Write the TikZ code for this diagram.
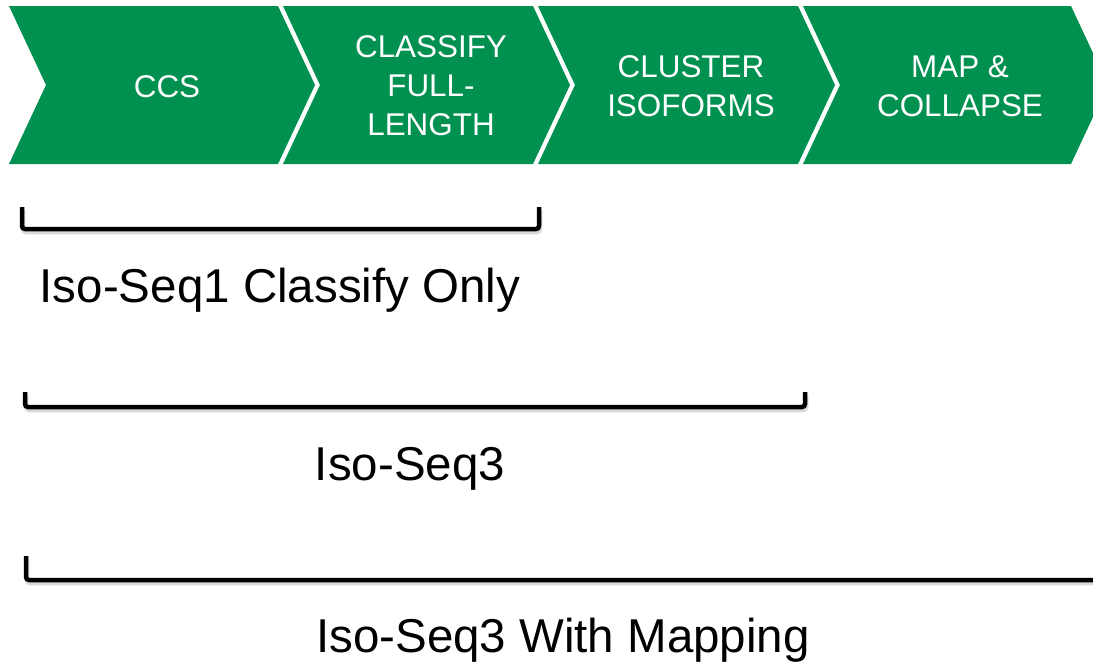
\documentclass[tikz,border=0pt]{standalone}
\usepackage{tikz}
\usetikzlibrary{calc}
\usetikzlibrary{positioning}
\usepackage{fontspec}
\setmainfont{Liberation Sans}
\definecolor{stepgreen}{RGB}{0,145,80}
\newcommand{\chevdepth}{37}
\tikzset{
  steplabel/.style={text=white,align=center,font=\fontsize{31.4}{39}\selectfont},
  brlabel/.style={font=\fontsize{47.5}{56}\selectfont},
  bracket/.style={line width=4.5pt,rounded corners=3pt},
  brshadow/.style={line width=4.5pt,rounded corners=3pt,black!25,opacity=0.6}
}
\begin{document}
\begin{tikzpicture}[x=1pt,y=-1pt]
        \useasboundingbox (0,0) rectangle (1093,665);
        % chevrons: left top x / right top x
        \foreach \l/\r in {9/278, 283/533, 538/798, 803/1071}{
          \fill[stepgreen] (\l,6) -- (\r,6) -- (\r+\chevdepth,85) -- (\r,164)
            -- (\l,164) -- (\l+\chevdepth,85) -- cycle;
        }
        \node[steplabel] (ccs)     at (167,87)  {CCS};
        \node[steplabel] (classify) at (431,86) {CLASSIFY\\FULL-\\LENGTH};
        \node[steplabel] (cluster) at (691,86)  {CLUSTER\\ISOFORMS};
        \node[steplabel] (mapcol)  at (960,86)  {MAP \&\\COLLAPSE};

        % brackets
        \coordinate (b1l) at (22,207);  \coordinate (b1r) at (539,207);
        \coordinate (b2l) at (25,392);  \coordinate (b2r) at (805,392);
        \coordinate (b3l) at (26,556);  \coordinate (b3r) at (1110,556);
        \draw[brshadow] ($(b1l)+(1,3)$) |- ($(b1r)+(1,25)$) -- ($(b1r)+(1,3)$);
        \draw[brshadow] ($(b2l)+(1,3)$) |- ($(b2r)+(1,18)$) -- ($(b2r)+(1,3)$);
        \draw[brshadow] ($(b3l)+(1,3)$) |- ($(b3r)+(1,27)$);
        \draw[bracket] (b1l) |- ($(b1r)+(0,22)$) -- (b1r);
        \draw[bracket] (b2l) |- ($(b2r)+(0,15)$) -- (b2r);
        \draw[bracket] (b3l) |- ($(b3r)+(0,24)$);

        \node[brlabel] (iso1) at (280,290) {Iso-Seq1 Classify Only};
        \node[brlabel] (iso3) at (410,469) {Iso-Seq3};
        \node[brlabel] (iso3map) at (563,640) {Iso-Seq3 With Mapping};
\end{tikzpicture}
\end{document}
